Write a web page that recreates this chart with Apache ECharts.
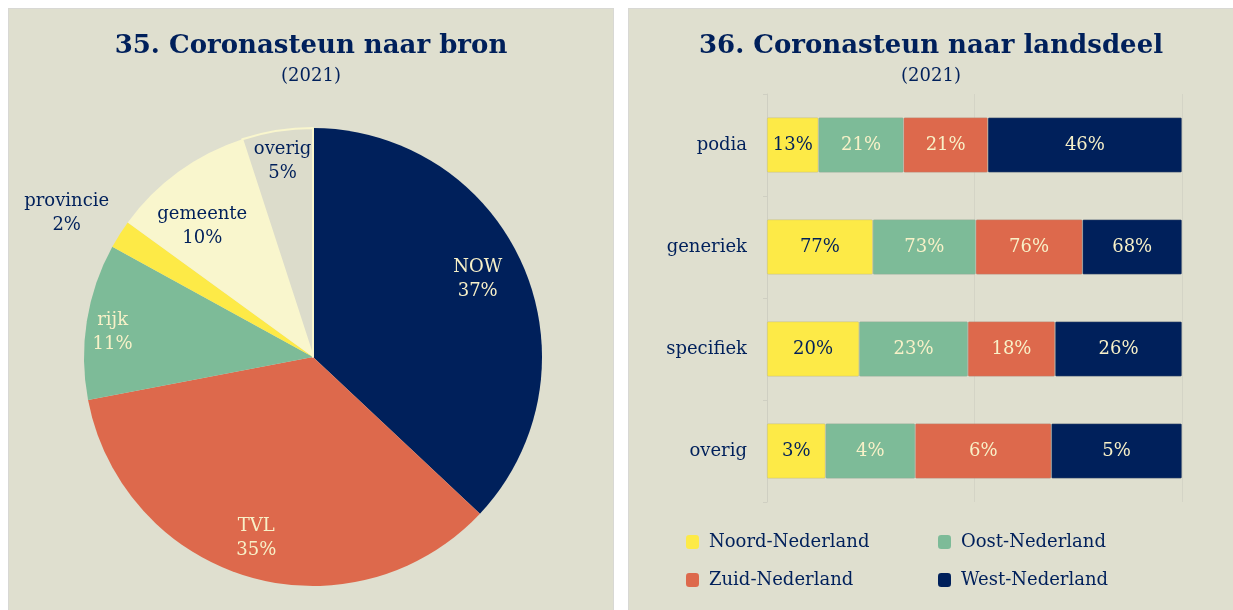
<!DOCTYPE html>
<html>
<head>
<meta charset="utf-8">
<script src="https://cdn.jsdelivr.net/npm/echarts@6/dist/echarts.min.js"></script>
<style>
  html, body { margin: 0; padding: 0; background: #ffffff; }
  .panel {
    position: absolute;
    top: 8px;
    box-sizing: border-box;
    border: 1px solid #d8d8d4;
    border-bottom: none;
    background: #dfdfcf;
  }
  #bron { left: 8px; width: 606px; height: 602px; }
  #landsdeel { left: 628px; width: 606px; height: 602px; }
</style>
</head>
<body>
<div class="panel" id="bron"></div>
<div class="panel" id="landsdeel"></div>
<script>
// ---- data: figuur 35 ----
const pieNames = ['NOW', 'TVL', 'rijk', 'provincie', 'gemeente', 'overig'];
const pieValues = [37, 35, 11, 2, 10, 5];

// ---- data: figuur 36 ----
const categories = ['podia', 'generiek', 'specifiek', 'overig'];
const regions = ['Noord-Nederland', 'Oost-Nederland', 'Zuid-Nederland', 'West-Nederland'];
// percentages as printed in the bars
const noordPct = [13, 77, 20, 3];
const oostPct = [21, 73, 23, 4];
const zuidPct = [21, 76, 18, 6];
const westPct = [46, 68, 26, 5];
// share of each bar (100% stacked widths)
const noordShare = [12.4, 25.5, 22.2, 14.1];
const oostShare = [20.5, 24.8, 26.2, 21.6];
const zuidShare = [20.3, 25.7, 21.0, 32.8];
const westShare = [46.8, 24.0, 30.6, 31.5];

const NAVY = '#00205b';
const CORAL = '#dd694c';
const GREEN = '#7dbb98';
const YELLOW = '#fdea47';
const CREAM = '#f9f6cd';
const CREAM_TXT = '#f8f1c8';
const GREY = '#dcdccb';
const FONT = '"DejaVu Serif", "Liberation Serif", serif';

const pieColors = [NAVY, CORAL, GREEN, YELLOW, CREAM, GREY];
const pieLabelColors = [CREAM_TXT, CREAM_TXT, CREAM_TXT, NAVY, NAVY, NAVY];
// label nudges (px) relative to the default inside position
const pieLabelShift = {
    NOW: [-2, -6], TVL: [-6, 7], rijk: [-21, 4],
    provincie: [-93, -46], gemeente: [-4, 16], overig: [-2, -16]
};

function titles(text) {
    return [
        {
            text: text, left: 'center', top: 19,
            textStyle: { fontFamily: FONT, fontSize: 26, fontWeight: 'bold', color: NAVY }
        },
        {
            text: '(2021)', left: 'center', top: 53,
            textStyle: { fontFamily: FONT, fontSize: 18, fontWeight: 'normal', color: NAVY }
        }
    ];
}

// ---------- pie ----------
let pieChart = echarts.init(document.getElementById('bron'));
let pieR = 229;
pieChart.setOption({
    animation: false,
    title: titles('35. Coronasteun naar bron'),
    series: [
        {
            type: 'pie',
            center: [304, 348],
            radius: pieR,
            startAngle: 90,
            silent: true,
            label: { show: false },
            labelLine: { show: false },
            data: pieNames.map((n, i) => ({
                name: n, value: pieValues[i],
                itemStyle: i === 5
                    ? { color: pieColors[i], borderColor: CREAM, borderWidth: 2 }
                    : { color: pieColors[i] }
            }))
        },
        {
            type: 'pie',
            center: [304, 348],
            radius: [pieR * 0.56, pieR],
            startAngle: 90,
            silent: true,
            itemStyle: { color: 'transparent' },
            labelLine: { show: false },
            label: {
                show: true,
                position: 'inside',
                fontFamily: FONT,
                fontSize: 18,
                lineHeight: 24,
                formatter: p => p.name + '\n' + pieValues[p.dataIndex] + '%'
            },
            labelLayout: p => {
                let s = pieLabelShift[pieNames[p.dataIndex]];
                return { dx: s[0], dy: s[1] };
            },
            data: pieNames.map((n, i) => ({
                name: n, value: pieValues[i],
                label: { color: pieLabelColors[i] }
            }))
        }
    ]
});

// ---------- stacked bars ----------
let barChart = echarts.init(document.getElementById('landsdeel'));
const shares = [noordShare, oostShare, zuidShare, westShare];
const pcts = [noordPct, oostPct, zuidPct, westPct];
const barColors = [YELLOW, GREEN, CORAL, NAVY];
const barLabelColors = [NAVY, CREAM_TXT, CREAM_TXT, CREAM_TXT];

const legendBase = {
    orient: 'vertical', top: 519,
    itemWidth: 13, itemHeight: 14, itemGap: 20,
    icon: 'roundRect',
    itemStyle: { borderWidth: 0 },
    textStyle: { fontFamily: FONT, fontSize: 18, color: NAVY, padding: [0, 0, 0, 5] }
};

barChart.setOption({
    animation: false,
    title: titles('36. Coronasteun naar landsdeel'),
    legend: [
        Object.assign({ data: [regions[0], regions[2]], left: 52 }, legendBase),
        Object.assign({ data: [regions[1], regions[3]], left: 304 }, legendBase)
    ],
    grid: { left: 138, right: 51, top: 85, height: 408 },
    xAxis: {
        type: 'value', min: 0, max: 100, interval: 50,
        axisLabel: { show: false },
        axisLine: { show: false },
        axisTick: { show: false },
        splitLine: { lineStyle: { color: '#d4d4c6', width: 1 } }
    },
    yAxis: {
        type: 'category',
        inverse: true,
        data: categories,
        axisLine: { lineStyle: { color: '#cfcfc2', width: 1 } },
        axisTick: { show: true, length: 4, lineStyle: { color: '#cfcfc2' } },
        axisLabel: { fontFamily: FONT, fontSize: 18, color: NAVY, margin: 20 }
    },
    series: regions.map((r, k) => ({
        name: r,
        type: 'bar',
        stack: 'totaal',
        barWidth: '54%',
        itemStyle: {
            color: barColors[k],
            borderColor: 'rgba(160,160,150,0.5)',
            borderWidth: 0.6,
            borderRadius: 1
        },
        label: {
            show: true,
            position: 'inside',
            fontFamily: FONT,
            fontSize: 18,
            color: barLabelColors[k],
            formatter: p => pcts[k][p.dataIndex] + '%'
        },
        data: shares[k]
    }))
});

window.addEventListener('resize', () => {
    pieChart.resize();
    barChart.resize();
});
</script>
</body>
</html>
